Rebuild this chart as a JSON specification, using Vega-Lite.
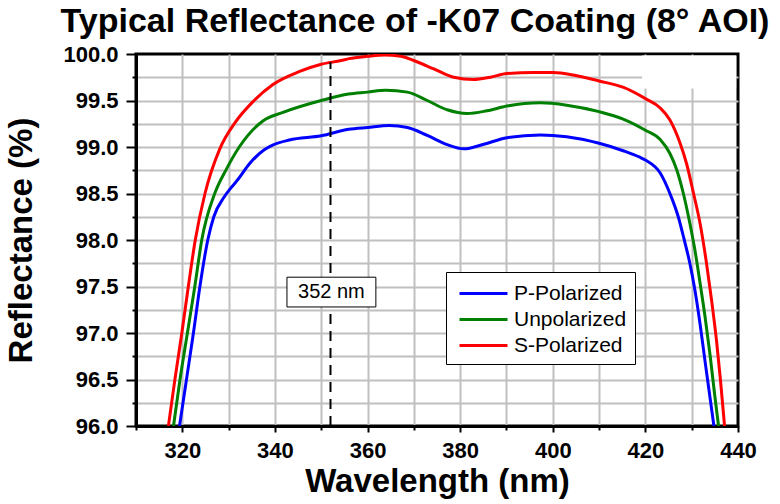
{
  "$schema": "https://vega.github.io/schema/vega-lite/v6.json",
  "width": 602,
  "height": 372,
  "autosize": {"type": "none"},
  "padding": {"left": 136, "top": 54, "right": 42, "bottom": 78},
  "background": "white",
  "title": {
    "text": "Typical Reflectance of -K07 Coating (8° AOI)",
    "font": "Liberation Sans",
    "fontSize": 34,
    "fontWeight": "bold",
    "color": "black",
    "anchor": "middle",
    "dx": -22,
    "offset": 4
  },
  "config": {
    "view": {"stroke": "black", "strokeWidth": 3},
    "axis": {
      "labelFont": "Liberation Sans",
      "labelFontWeight": "bold",
      "labelFontSize": 22,
      "labelColor": "black",
      "titleFont": "Liberation Sans",
      "titleFontWeight": "bold",
      "titleFontSize": 33,
      "titleColor": "black",
      "domainColor": "black",
      "domainWidth": 3,
      "tickColor": "black",
      "tickWidth": 2,
      "gridWidth": 2,
      "labelFlush": false,
      "labelOverlap": false
    }
  },
  "datasets": {
    "curves": [
      {"series": "P-Polarized", "nm": 319.4, "R": 96.0},
      {"series": "P-Polarized", "nm": 320.9, "R": 96.5},
      {"series": "P-Polarized", "nm": 322.4, "R": 97.0},
      {"series": "P-Polarized", "nm": 323.8, "R": 97.5},
      {"series": "P-Polarized", "nm": 325.5, "R": 98.0},
      {"series": "P-Polarized", "nm": 326.8, "R": 98.25},
      {"series": "P-Polarized", "nm": 329.0, "R": 98.46},
      {"series": "P-Polarized", "nm": 330.5, "R": 98.56},
      {"series": "P-Polarized", "nm": 332.0, "R": 98.65},
      {"series": "P-Polarized", "nm": 334.5, "R": 98.82},
      {"series": "P-Polarized", "nm": 337.7, "R": 98.97},
      {"series": "P-Polarized", "nm": 339.5, "R": 99.02},
      {"series": "P-Polarized", "nm": 343.1, "R": 99.075},
      {"series": "P-Polarized", "nm": 350.0, "R": 99.12},
      {"series": "P-Polarized", "nm": 355.9, "R": 99.19},
      {"series": "P-Polarized", "nm": 360.0, "R": 99.21},
      {"series": "P-Polarized", "nm": 364.7, "R": 99.23},
      {"series": "P-Polarized", "nm": 368.6, "R": 99.21},
      {"series": "P-Polarized", "nm": 372.9, "R": 99.125},
      {"series": "P-Polarized", "nm": 377.2, "R": 99.025},
      {"series": "P-Polarized", "nm": 380.8, "R": 98.98},
      {"series": "P-Polarized", "nm": 385.1, "R": 99.03},
      {"series": "P-Polarized", "nm": 390.1, "R": 99.1},
      {"series": "P-Polarized", "nm": 397.3, "R": 99.13},
      {"series": "P-Polarized", "nm": 403.0, "R": 99.11},
      {"series": "P-Polarized", "nm": 410.0, "R": 99.04},
      {"series": "P-Polarized", "nm": 415.2, "R": 98.96},
      {"series": "P-Polarized", "nm": 418.8, "R": 98.89},
      {"series": "P-Polarized", "nm": 420.0, "R": 98.86},
      {"series": "P-Polarized", "nm": 423.2, "R": 98.72},
      {"series": "P-Polarized", "nm": 425.3, "R": 98.5},
      {"series": "P-Polarized", "nm": 427.1, "R": 98.25},
      {"series": "P-Polarized", "nm": 428.3, "R": 98.02},
      {"series": "P-Polarized", "nm": 429.6, "R": 97.75},
      {"series": "P-Polarized", "nm": 430.7, "R": 97.46},
      {"series": "P-Polarized", "nm": 431.8, "R": 97.1},
      {"series": "P-Polarized", "nm": 432.9, "R": 96.69},
      {"series": "P-Polarized", "nm": 434.0, "R": 96.29},
      {"series": "P-Polarized", "nm": 434.8, "R": 96.0},

      {"series": "Unpolarized", "nm": 318.1, "R": 96.0},
      {"series": "Unpolarized", "nm": 319.5, "R": 96.5},
      {"series": "Unpolarized", "nm": 321.1, "R": 97.0},
      {"series": "Unpolarized", "nm": 322.7, "R": 97.5},
      {"series": "Unpolarized", "nm": 324.2, "R": 98.0},
      {"series": "Unpolarized", "nm": 327.0, "R": 98.5},
      {"series": "Unpolarized", "nm": 329.5, "R": 98.76},
      {"series": "Unpolarized", "nm": 332.3, "R": 99.0},
      {"series": "Unpolarized", "nm": 337.4, "R": 99.28},
      {"series": "Unpolarized", "nm": 341.6, "R": 99.37},
      {"series": "Unpolarized", "nm": 350.0, "R": 99.5},
      {"series": "Unpolarized", "nm": 355.9, "R": 99.57},
      {"series": "Unpolarized", "nm": 360.0, "R": 99.59},
      {"series": "Unpolarized", "nm": 363.9, "R": 99.61},
      {"series": "Unpolarized", "nm": 368.6, "R": 99.59},
      {"series": "Unpolarized", "nm": 372.9, "R": 99.5},
      {"series": "Unpolarized", "nm": 377.2, "R": 99.4},
      {"series": "Unpolarized", "nm": 381.5, "R": 99.36},
      {"series": "Unpolarized", "nm": 385.8, "R": 99.39},
      {"series": "Unpolarized", "nm": 390.1, "R": 99.44},
      {"series": "Unpolarized", "nm": 397.3, "R": 99.475},
      {"series": "Unpolarized", "nm": 403.0, "R": 99.45},
      {"series": "Unpolarized", "nm": 410.0, "R": 99.38},
      {"series": "Unpolarized", "nm": 415.2, "R": 99.3},
      {"series": "Unpolarized", "nm": 420.0, "R": 99.18},
      {"series": "Unpolarized", "nm": 423.2, "R": 99.08},
      {"series": "Unpolarized", "nm": 425.3, "R": 98.93},
      {"series": "Unpolarized", "nm": 426.8, "R": 98.75},
      {"series": "Unpolarized", "nm": 428.2, "R": 98.5},
      {"series": "Unpolarized", "nm": 429.6, "R": 98.18},
      {"series": "Unpolarized", "nm": 430.7, "R": 97.89},
      {"series": "Unpolarized", "nm": 431.8, "R": 97.54},
      {"series": "Unpolarized", "nm": 432.9, "R": 97.17},
      {"series": "Unpolarized", "nm": 434.0, "R": 96.75},
      {"series": "Unpolarized", "nm": 435.0, "R": 96.32},
      {"series": "Unpolarized", "nm": 435.8, "R": 96.0},

      {"series": "S-Polarized", "nm": 317.0, "R": 96.0},
      {"series": "S-Polarized", "nm": 318.4, "R": 96.5},
      {"series": "S-Polarized", "nm": 319.9, "R": 97.0},
      {"series": "S-Polarized", "nm": 321.3, "R": 97.5},
      {"series": "S-Polarized", "nm": 322.8, "R": 98.0},
      {"series": "S-Polarized", "nm": 324.9, "R": 98.5},
      {"series": "S-Polarized", "nm": 328.1, "R": 98.98},
      {"series": "S-Polarized", "nm": 331.5, "R": 99.27},
      {"series": "S-Polarized", "nm": 335.3, "R": 99.49},
      {"series": "S-Polarized", "nm": 339.5, "R": 99.67},
      {"series": "S-Polarized", "nm": 345.2, "R": 99.81},
      {"series": "S-Polarized", "nm": 350.0, "R": 99.89},
      {"series": "S-Polarized", "nm": 354.3, "R": 99.93},
      {"series": "S-Polarized", "nm": 356.0, "R": 99.95},
      {"series": "S-Polarized", "nm": 360.0, "R": 99.975},
      {"series": "S-Polarized", "nm": 363.6, "R": 99.99},
      {"series": "S-Polarized", "nm": 367.2, "R": 99.975},
      {"series": "S-Polarized", "nm": 370.0, "R": 99.93},
      {"series": "S-Polarized", "nm": 374.3, "R": 99.84},
      {"series": "S-Polarized", "nm": 378.6, "R": 99.75},
      {"series": "S-Polarized", "nm": 382.9, "R": 99.725},
      {"series": "S-Polarized", "nm": 386.5, "R": 99.75},
      {"series": "S-Polarized", "nm": 390.1, "R": 99.79},
      {"series": "S-Polarized", "nm": 395.8, "R": 99.8},
      {"series": "S-Polarized", "nm": 400.1, "R": 99.8},
      {"series": "S-Polarized", "nm": 404.4, "R": 99.775},
      {"series": "S-Polarized", "nm": 410.0, "R": 99.71},
      {"series": "S-Polarized", "nm": 415.3, "R": 99.64},
      {"series": "S-Polarized", "nm": 420.0, "R": 99.52},
      {"series": "S-Polarized", "nm": 423.2, "R": 99.42},
      {"series": "S-Polarized", "nm": 425.3, "R": 99.29},
      {"series": "S-Polarized", "nm": 427.5, "R": 99.04},
      {"series": "S-Polarized", "nm": 428.9, "R": 98.82},
      {"series": "S-Polarized", "nm": 430.4, "R": 98.5},
      {"series": "S-Polarized", "nm": 431.8, "R": 98.18},
      {"series": "S-Polarized", "nm": 433.2, "R": 97.75},
      {"series": "S-Polarized", "nm": 434.3, "R": 97.35},
      {"series": "S-Polarized", "nm": 435.4, "R": 96.9},
      {"series": "S-Polarized", "nm": 436.2, "R": 96.5},
      {"series": "S-Polarized", "nm": 437.1, "R": 96.0}
    ],
    "marker": [
      {"nm": 352, "R": 96.0, "R2": 99.91}
    ],
    "note": [
      {"nm": 342.6, "nm2": 361.8, "R": 97.6, "R2": 97.28, "Rmid": 97.44, "nmid": 352.2, "text": "352 nm"}
    ],
    "patch": [
      {"nm": 419.3, "nm2": 439.6, "R": 99.63, "R2": 99.984}
    ]
  },
  "encoding": {
    "x": {
      "field": "nm",
      "type": "quantitative",
      "scale": {"domain": [310, 440], "nice": false, "zero": false},
      "axis": {
        "title": "Wavelength (nm)",
        "values": [310, 320, 330, 340, 350, 360, 370, 380, 390, 400, 410, 420, 430, 440],
        "labelExpr": "datum.value % 20 == 0 ? datum.label : ''",
        "format": "d",
        "tickSize": {"condition": {"test": "datum.value % 20 == 0", "value": 6}, "value": 4},
        "gridColor": {"condition": {"test": "datum.value == 310 || datum.value == 440", "value": "transparent"}, "value": "#c0c0c0"},
        "labelPadding": 8,
        "titlePadding": 4
      }
    },
    "y": {
      "field": "R",
      "type": "quantitative",
      "scale": {"domain": [96, 100], "nice": false, "zero": false},
      "axis": {
        "title": "Reflectance (%)",
        "values": [96, 96.25, 96.5, 96.75, 97, 97.25, 97.5, 97.75, 98, 98.25, 98.5, 98.75, 99, 99.25, 99.5, 99.75, 100],
        "format": ".1f",
        "labelExpr": "round(datum.value * 2) == datum.value * 2 ? datum.label : ''",
        "tickSize": {"condition": {"test": "round(datum.value * 2) == datum.value * 2", "value": 10}, "value": 4},
        "gridColor": {"condition": {"test": "datum.value == 96 || datum.value == 100", "value": "transparent"}, "value": "#c0c0c0"},
        "labelPadding": 8,
        "titlePadding": 24
      }
    }
  },
  "layer": [
    {
      "data": {"name": "patch"},
      "mark": {"type": "rect", "fill": "white", "strokeWidth": 0},
      "encoding": {
        "x2": {"field": "nm2"},
        "y2": {"field": "R2"}
      }
    },
    {
      "data": {"name": "curves"},
      "mark": {"type": "line", "strokeWidth": 3, "interpolate": "monotone", "clip": true},
      "encoding": {
        "color": {
          "field": "series",
          "type": "nominal",
          "scale": {
            "domain": ["P-Polarized", "Unpolarized", "S-Polarized"],
            "range": ["#0000ff", "#008000", "#ff0000"]
          },
          "legend": {
            "title": null,
            "orient": "none",
            "legendX": 310,
            "legendY": 218,
            "fillColor": "white",
            "strokeColor": "black",
            "padding": 8,
            "symbolType": "M-2,0H2",
            "symbolSize": 576,
            "symbolStrokeWidth": 3,
            "symbolOffset": 16,
            "labelFont": "Liberation Sans",
            "labelFontSize": 21,
            "labelColor": "black",
            "labelOffset": 17,
            "rowPadding": 2
          }
        },
        "order": {"field": "nm", "type": "quantitative"}
      }
    },
    {
      "data": {"name": "marker"},
      "mark": {"type": "rule", "color": "black", "strokeWidth": 2, "strokeDash": [10, 7]},
      "encoding": {
        "y2": {"field": "R2"}
      }
    },
    {
      "data": {"name": "note"},
      "mark": {"type": "rect", "fill": "white", "stroke": "black", "strokeWidth": 1},
      "encoding": {
        "x2": {"field": "nm2"},
        "y2": {"field": "R2"}
      }
    },
    {
      "data": {"name": "note"},
      "mark": {"type": "text", "font": "Liberation Sans", "fontSize": 20, "color": "black", "align": "center", "baseline": "middle"},
      "encoding": {
        "x": {"field": "nmid", "type": "quantitative"},
        "y": {"field": "Rmid", "type": "quantitative"},
        "text": {"field": "text"}
      }
    }
  ]
}
